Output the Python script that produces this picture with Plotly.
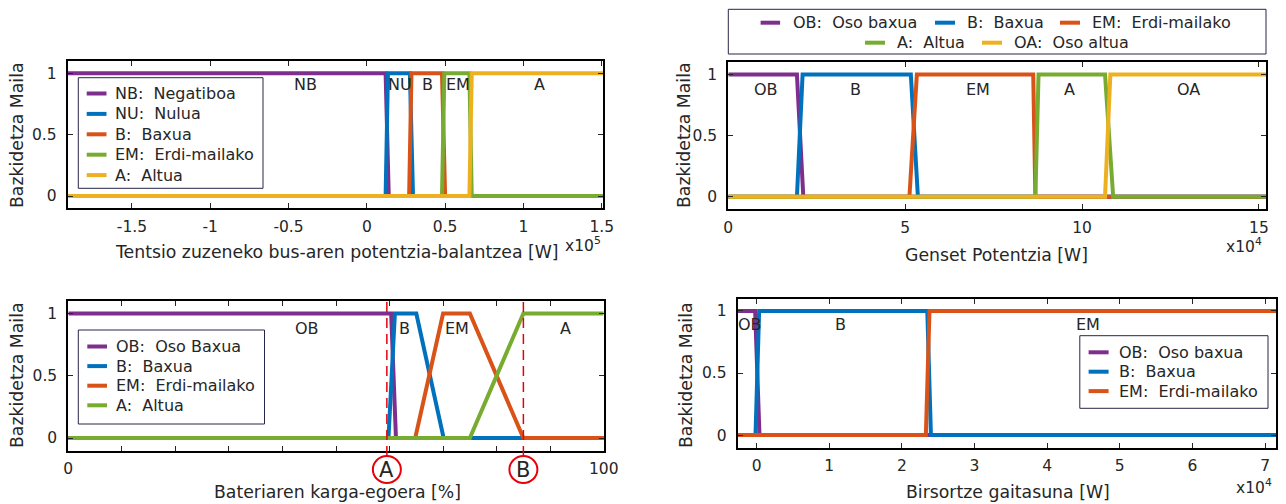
import plotly.graph_objects as go

# ---------------- data ----------------
FONT = "DejaVu Sans"
TXT = "#262626"
COLORS = ["#7E2F8E", "#0072BD", "#D95319", "#77AC30", "#EDB120"]

# Panel 1: DC bus power balance [W]
p1_range = [-191000, 151000]
p1_names = ["NB: Negatiboa", "NU: Nulua", "B: Baxua", "EM: Erdi-mailako", "A: Altua"]
p1_x = [
    [-191000, 12000, 14000, 151000],
    [-191000, 12000, 13500, 27500, 29500, 151000],
    [-191000, 27000, 28500, 48000, 50000, 151000],
    [-191000, 48000, 49500, 65500, 67000, 151000],
    [-191000, 65500, 67000, 151000],
]
p1_y = [
    [1, 1, 0, 0],
    [0, 0, 1, 1, 0, 0],
    [0, 0, 1, 1, 0, 0],
    [0, 0, 1, 1, 0, 0],
    [0, 0, 1, 1],
]
p1_labels = ["NB", "NU", "B", "EM", "A"]
p1_label_x = [-39000, 21000, 39000, 58500, 110000]
p1_label_y = 0.91
p1_tickvals = [-150000, -100000, -50000, 0, 50000, 100000, 150000]
p1_ticktext = ["-1.5", "-1", "-0.5", "0", "0.5", "1", "1.5"]

# Panel 2: Genset power [W]
p2_range = [0, 152000]
p2_names = ["OB: Oso baxua", "B: Baxua", "EM: Erdi-mailako", "A: Altua", "OA: Oso altua"]
p2_x = [
    [0, 19400, 21200, 152000],
    [0, 19400, 21000, 51600, 53600, 152000],
    [0, 51200, 53300, 86200, 86800, 152000],
    [0, 86800, 87700, 106500, 108800, 152000],
    [0, 106500, 108000, 152000],
]
p2_y = [
    [1, 1, 0, 0],
    [0, 0, 1, 1, 0, 0],
    [0, 0, 1, 1, 0, 0],
    [0, 0, 1, 1, 0, 0],
    [0, 0, 1, 1],
]
p2_labels = ["OB", "B", "EM", "A", "OA"]
p2_label_x = [10700, 36100, 70500, 96400, 130200]
p2_label_y = 0.88
p2_tickvals = [0, 50000, 100000, 150000]
p2_ticktext = ["0", "5", "10", "15"]

# Panel 3: battery state of charge [%]
p3_range = [0, 100]
p3_names = ["OB: Oso Baxua", "B: Baxua", "EM: Erdi-mailako", "A: Altua"]
p3_x = [
    [0, 60.3, 61.2, 100],
    [0, 59.8, 61.0, 65.0, 70.1, 100],
    [0, 64.8, 70.0, 75.0, 85.0, 100],
    [0, 75.0, 85.0, 100],
]
p3_y = [
    [1, 1, 0, 0],
    [0, 0, 1, 1, 0, 0],
    [0, 0, 1, 1, 0, 0],
    [0, 0, 1, 1],
]
p3_labels = ["OB", "B", "EM", "A"]
p3_label_x = [44.6, 62.7, 72.6, 92.9]
p3_label_y = 0.88
p3_tickvals = [0, 100]
p3_ticktext = ["0", "100"]
p3_minor_step = 10
p3_marks = ["A", "B"]
p3_mark_x = [59.5, 85.0]

# Panel 4: regeneration capacity [W]
p4_range = [-2600, 71500]
p4_names = ["OB: Oso baxua", "B: Baxua", "EM: Erdi-mailako"]
p4_x = [
    [-2600, -200, 400, 71500],
    [-2600, -150, 350, 23500, 24000, 71500],
    [-2600, 23300, 23800, 71500],
]
p4_y = [
    [1, 1, 0, 0],
    [0, 0, 1, 1, 0, 0],
    [0, 0, 1, 1],
]
p4_labels = ["OB", "B", "EM"]
p4_label_x = [-900, 11500, 45600]
p4_label_y = 0.89
p4_tickvals = [0, 10000, 20000, 30000, 40000, 50000, 60000, 70000]
p4_ticktext = ["0", "1", "2", "3", "4", "5", "6", "7"]

ylabel = "Bazkidetza Maila"
xlabels = [
    "Tentsio zuzeneko bus-aren potentzia-balantzea [W]",
    "Genset Potentzia [W]",
    "Bateriaren karga-egoera [%]",
    "Birsortze gaitasuna [W]",
]
exponents = ["5", "4", None, "4"]

# ---------------- layout helpers ----------------
W, H = 1286, 504
def px(x):
    return x / W
def py(y):
    return 1 - y / H

# pixel boxes of the four axes: (left, right, top, bottom)
boxes = [
    (67.7, 603.3, 61.0, 208.3),
    (728.3, 1266.0, 62.3, 209.0),
    (68.3, 603.7, 301.0, 450.5),
    (737.7, 1276.0, 298.5, 447.5),
]
xlabel_pos = [(337, 251.5), (996, 255), (337, 491.7), (1008, 491.7)]
ylabel_pos = [(17, 135), (684, 135), (17, 375), (686, 375)]
exp_pos = [(603, 244), (1264, 245), None, (1274, 486)]

fig = go.Figure()
panels = [
    (p1_x, p1_y, p1_names, p1_range, p1_tickvals, p1_ticktext, p1_labels, p1_label_x, p1_label_y),
    (p2_x, p2_y, p2_names, p2_range, p2_tickvals, p2_ticktext, p2_labels, p2_label_x, p2_label_y),
    (p3_x, p3_y, p3_names, p3_range, p3_tickvals, p3_ticktext, p3_labels, p3_label_x, p3_label_y),
    (p4_x, p4_y, p4_names, p4_range, p4_tickvals, p4_ticktext, p4_labels, p4_label_x, p4_label_y),
]

shapes = []
annotations = []
layout = {}

def ann(**kw):
    d = dict(showarrow=False, xanchor="center", yanchor="middle")
    d.update(kw)
    annotations.append(d)

for i, (xs, ys, names, xr, tv, tt, labs, lx, ly) in enumerate(panels):
    n = i + 1
    xa = "x" if n == 1 else f"x{n}"
    ya = "y" if n == 1 else f"y{n}"
    for k, (xx, yy) in enumerate(zip(xs, ys)):
        fig.add_trace(go.Scatter(x=xx, y=yy, mode="lines", name=names[k],
                                 line=dict(color=COLORS[k], width=4),
                                 xaxis=xa, yaxis=ya, showlegend=False,
                                 hoverinfo="skip"))
    l, r, t, b = boxes[i]
    common = dict(showgrid=False, zeroline=False, showline=True, linecolor="black",
                  linewidth=2, mirror="ticks", ticks="inside", ticklen=5, tickwidth=1,
                  tickcolor=TXT, automargin=False,
                  tickfont=dict(family=FONT, size=15.5, color=TXT))
    xdict = dict(common, domain=[px(l), px(r)], anchor=ya, range=xr,
                 tickmode="array", tickvals=tv, ticktext=tt, ticklabelstandoff=3)
    if n == 3:
        xdict["minor"] = dict(ticks="inside", ticklen=5, tickwidth=1, tickcolor=TXT,
                              tick0=0, dtick=p3_minor_step, showgrid=False)
    layout["xaxis" if n == 1 else f"xaxis{n}"] = xdict
    layout["yaxis" if n == 1 else f"yaxis{n}"] = dict(
        common, domain=[py(b), py(t)], anchor=xa, range=[-0.1, 1.1],
        tickmode="array", tickvals=[0, 0.5, 1], ticktext=["0", "0.5", "1"],
        ticklabelstandoff=6)
    for s, x in zip(labs, lx):
        ann(x=x, y=ly, xref=xa, yref=ya, text=s, font=dict(family=FONT, size=16, color=TXT))
    ax_, ay_ = xlabel_pos[i]
    ann(x=px(ax_), y=py(ay_), xref="paper", yref="paper", text=xlabels[i],
        font=dict(family=FONT, size=17.3, color=TXT))
    bx_, by_ = ylabel_pos[i]
    ann(x=px(bx_), y=py(by_), xref="paper", yref="paper", text=ylabel, textangle=-90,
        font=dict(family=FONT, size=17.3, color=TXT))
    if exponents[i]:
        ex_, ey_ = exp_pos[i]
        ann(x=px(ex_), y=py(ey_), xref="paper", yref="paper",
            text=f"x10<sup>{exponents[i]}</sup>", xanchor="right",
            font=dict(family=FONT, size=15.5, color=TXT))

# ---------- legends (drawn as framed boxes) ----------
def add_legend(box, entries):
    x0, x1, y0, y1 = box
    shapes.append(dict(type="rect", xref="paper", yref="paper", x0=px(x0), x1=px(x1),
                       y0=py(y1), y1=py(y0), line=dict(color="#26264a", width=1),
                       fillcolor="white", layer="above"))
    for (sx0, sx1, tx, yy, color, text) in entries:
        shapes.append(dict(type="line", xref="paper", yref="paper", x0=px(sx0), x1=px(sx1),
                           y0=py(yy), y1=py(yy), line=dict(color=color, width=4), layer="above"))
        ann(x=px(tx), y=py(yy), xref="paper", yref="paper",
            text=text.replace(": ", ":\u00a0\u00a0"), xanchor="left",
            font=dict(family=FONT, size=16, color=TXT))

add_legend((78.3, 263.0, 77.7, 188.3),
           [(86.7, 106.5, 112.7, 93.5 + 20.4 * k, COLORS[k], p1_names[k]) for k in range(5)])
add_legend((78.3, 264.5, 330.0, 424.0),
           [(87.3, 107.0, 113.7, 346.5 + 19.6 * k, COLORS[k], p3_names[k]) for k in range(4)])
add_legend((1079.8, 1268.0, 335.7, 408.3),
           [(1088.6, 1108.6, 1116.5, 352.3 + 19.4 * k, COLORS[k], p4_names[k]) for k in range(3)])
p2_leg_pos = [(760.6, 780.1, 790.5, 22.7), (935.0, 955.0, 965.0, 22.7),
              (1060.0, 1080.0, 1090.0, 22.7), (865.0, 885.0, 895.0, 42.7),
              (982.0, 1002.0, 1011.5, 42.7)]
add_legend((728.3, 1266.0, 9.3, 54.0),
           [(a, b_, c, d, COLORS[k], p2_names[k]) for k, (a, b_, c, d) in enumerate(p2_leg_pos)])

# ---------- SOC thresholds A / B on panel 3 ----------
for m, xm in zip(p3_marks, p3_mark_x):
    shapes.append(dict(type="line", xref="x3", yref="paper", x0=xm, x1=xm,
                       y0=py(456), y1=py(301), line=dict(color="#E8000B", width=1.5, dash="10px,6px"),
                       layer="above"))
    shapes.append(dict(type="circle", xref="x3", yref="paper", xsizemode="pixel",
                       ysizemode="pixel", xanchor=xm, yanchor=py(469.5), x0=-14, x1=14,
                       y0=-13.5, y1=13.5, line=dict(color="#E8000B", width=2)))
    ann(x=xm, y=py(470), xref="x3", yref="paper", text=m,
        font=dict(family=FONT, size=21, color=TXT))

fig.update_layout(**layout)
fig.update_layout(width=W, height=H, autosize=False,
                  margin=dict(l=0, r=0, t=0, b=0, pad=0, autoexpand=False),
                  paper_bgcolor="white", plot_bgcolor="white",
                  shapes=shapes, annotations=annotations, showlegend=False)
fig.write_html("out.html",
               config={"displayModeBar": False, "responsive": False},
               post_script="document.body.style.margin='0px';document.body.style.padding='0px';document.body.style.overflow='hidden';")
